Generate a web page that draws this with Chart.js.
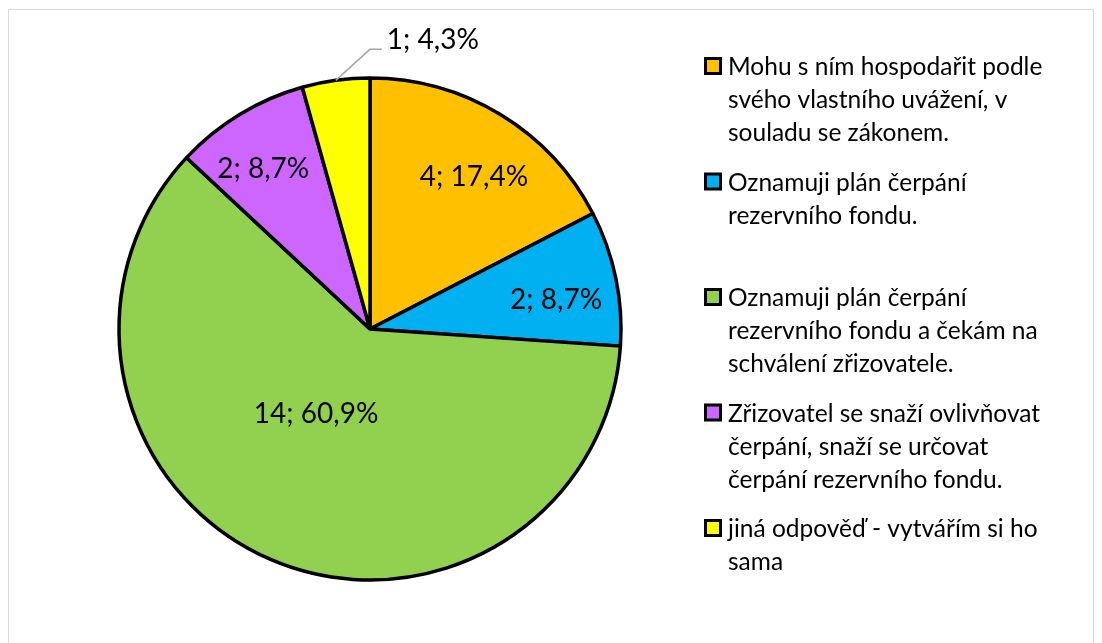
<!DOCTYPE html>
<html>
<head>
<meta charset="utf-8">
<script src="https://cdn.jsdelivr.net/npm/chart.js@4.4.1/dist/chart.umd.min.js"></script>
<style>
  html, body { margin: 0; padding: 0; background: #fff; }
  #wrap { position: relative; width: 1102px; height: 643px; }
</style>
</head>
<body>
<div id="wrap"><canvas id="chart" width="1102" height="643"></canvas></div>
<script>
// chart data
var categories = [
  ['Mohu s ním hospodařit podle', 'svého vlastního uvážení, v', 'souladu se zákonem.'],
  ['Oznamuji plán čerpání', 'rezervního fondu.'],
  ['Oznamuji plán čerpání', 'rezervního fondu a čekám na', 'schválení zřizovatele.'],
  ['Zřizovatel se snaží ovlivňovat', 'čerpání, snaží se určovat', 'čerpání rezervního fondu.'],
  ['jiná odpověď - vytvářím si ho', 'sama']
];
var counts = [4, 2, 14, 2, 1];
var colors = ['#FFC000', '#00B0F0', '#92D050', '#CC66FF', '#FFFF00'];

// label placement (fraction of radius, angle tweak in degrees), -1 = outside with leader
var labelRadius = [0.735, 0.75, 0.40, 0.765, -1];
var labelTurn = [3, 3, 9, -2.5, 0];

var total = counts.reduce(function (a, b) { return a + b; }, 0);
function pctText(v) {
  return (v / total * 100).toFixed(1).replace('.', ',') + '%';
}

var FONT = 'Lato, "Open Sans", sans-serif';

var framePlugin = {
  id: 'frame',
  beforeDraw: function (chart) {
    var ctx = chart.ctx;
    ctx.save();
    ctx.strokeStyle = '#D9D9D9';
    ctx.lineWidth = 1;
    ctx.strokeRect(8.5, 9.5, 1085, 700);
    ctx.restore();
  }
};

var labelPlugin = {
  id: 'sliceLabels',
  afterDatasetsDraw: function (chart) {
    var ctx = chart.ctx;
    var meta = chart.getDatasetMeta(0);
    ctx.save();
    ctx.fillStyle = '#000';
    ctx.font = '28px ' + FONT;
    meta.data.forEach(function (arc, i) {
      var text = counts[i] + '; ' + pctText(counts[i]);
      var mid = (arc.startAngle + arc.endAngle) / 2 + labelTurn[i] * Math.PI / 180;
      var r = arc.outerRadius;
      if (labelRadius[i] > 0) {
        var x = arc.x + Math.cos(mid) * r * labelRadius[i];
        var y = arc.y + Math.sin(mid) * r * labelRadius[i];
        ctx.textAlign = 'center';
        ctx.textBaseline = 'middle';
        ctx.fillText(text, x, y);
      } else {
        var ex = arc.x + Math.cos(mid) * r;
        var ey = arc.y + Math.sin(mid) * r;
        var kx = ex + 34, ky = ey - 31;
        ctx.strokeStyle = '#A6A6A6';
        ctx.lineWidth = 1.5;
        ctx.beginPath();
        ctx.moveTo(ex, ey);
        ctx.lineTo(kx, ky);
        ctx.lineTo(kx + 12, ky);
        ctx.stroke();
        ctx.textAlign = 'left';
        ctx.textBaseline = 'alphabetic';
        ctx.fillText(text, kx + 17, ky);
      }
    });
    ctx.restore();
  }
};

var legendPlugin = {
  id: 'sideLegend',
  afterDraw: function (chart) {
    var ctx = chart.ctx;
    ctx.save();
    ctx.font = '24.5px ' + FONT;
    ctx.textAlign = 'left';
    ctx.textBaseline = 'alphabetic';
    categories.forEach(function (lines, i) {
      var base = 75 + i * 115.5;
      ctx.fillStyle = '#000';
      ctx.fillRect(704, base - 18, 18, 18);
      ctx.fillStyle = colors[i];
      ctx.fillRect(707, base - 15, 12, 12);
      ctx.fillStyle = '#000';
      lines.forEach(function (ln, j) {
        ctx.fillText(ln, 728, base + j * 33);
      });
    });
    ctx.restore();
  }
};

new Chart(document.getElementById('chart'), {
  type: 'pie',
  data: {
    labels: categories,
    datasets: [{
      data: counts,
      backgroundColor: colors,
      borderColor: '#000',
      borderWidth: 3.5
    }]
  },
  options: {
    responsive: false,
    animation: false,
    devicePixelRatio: 1,
    radius: 251,
    layout: { padding: { left: 118, top: 77, right: 480, bottom: 62 } },
    plugins: {
      legend: { display: false },
      tooltip: { enabled: false }
    }
  },
  plugins: [framePlugin, labelPlugin, legendPlugin]
});
</script>
</body>
</html>
